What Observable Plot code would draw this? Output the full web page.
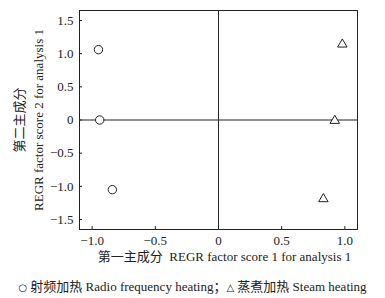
<!DOCTYPE html>
<html>
<head>
<meta charset="utf-8">
<script src="https://cdn.jsdelivr.net/npm/d3@7"></script>
<script src="https://cdn.jsdelivr.net/npm/@observablehq/plot@0.6"></script>
<style>
  html, body { margin: 0; padding: 0; background: #fff; }
  body { width: 385px; height: 298px; overflow: hidden; font-family: "Liberation Serif", "Noto Sans CJK SC", serif; }
  #legend { font-size: 13px; color: #222; text-align: center; line-height: 16px; margin-top: 7px; white-space: nowrap; }
  #legend .sym { font-family: "DejaVu Sans", sans-serif; font-size: 10px; }
</style>
</head>
<body>
<div id="chart"></div>
<div id="legend"><span class="sym">○</span> 射频加热 Radio frequency heating；<span class="sym">△</span> 蒸煮加热 Steam heating</div>
<script>
const groups = ["射频加热 Radio frequency heating", "射频加热 Radio frequency heating", "射频加热 Radio frequency heating",
                "蒸煮加热 Steam heating", "蒸煮加热 Steam heating", "蒸煮加热 Steam heating"];
const score1 = [-0.95, -0.94, -0.84, 0.98, 0.92, 0.83];
const score2 = [1.06, 0.0, -1.05, 1.14, -0.01, -1.19];
const xTicks = [-1.0, -0.5, 0, 0.5, 1.0];
const yTicks = [-1.5, -1.0, -0.5, 0, 0.5, 1.0, 1.5];
const xLabel = "第一主成分  REGR factor score 1 for analysis 1";
const yLabel1 = "第二主成分";
const yLabel2 = "REGR factor score 2 for analysis 1";

const data = score1.map((x, i) => ({x, y: score2[i], g: groups[i]}));
const fmt = d => d === 0 ? "0" : d.toFixed(1).replace("-", "−");

const chart = Plot.plot({
  width: 385,
  height: 272,
  marginLeft: 79,
  marginRight: 28,
  marginTop: 10,
  marginBottom: 43,
  style: {fontFamily: '"Liberation Serif", "Noto Sans CJK SC", serif', fontSize: "13px", color: "#222", background: "#fff"},
  x: {domain: [-1.1, 1.1]},
  y: {domain: [-1.65, 1.65]},
  r: {type: "identity"},
  symbol: {domain: [groups[0], groups[3]], range: ["circle", "triangle"]},
  marks: [
    Plot.frame({stroke: "#222", strokeWidth: 1}),
    Plot.ruleX([0], {stroke: "#222", strokeWidth: 1}),
    Plot.ruleY([0], {stroke: "#222", strokeWidth: 1}),
    Plot.axisX({ticks: xTicks, tickFormat: fmt, tickSize: -3, tickPadding: 9, label: null, stroke: "#222", fill: "#222", fontSize: 13}),
    Plot.axisY({ticks: yTicks, tickFormat: fmt, tickSize: -3, tickPadding: 9, label: null, stroke: "#222", fill: "#222", fontSize: 13}),
    Plot.dot(data, {x: "x", y: "y", symbol: "g", r: d => d.g === groups[0] ? 4.2 : 3.5, stroke: "#222", fill: "white", strokeWidth: 1}),
    Plot.text([xLabel], {frameAnchor: "bottom", dy: 31, fontSize: 13, fill: "#222", dx: 6}),
    Plot.text([yLabel1], {frameAnchor: "left", textAnchor: "middle", dx: -60, rotate: -90, fontSize: 13, fill: "#222"}),
    Plot.text([yLabel2], {frameAnchor: "left", textAnchor: "middle", dx: -41, rotate: -90, fontSize: 13, fill: "#222"})
  ]
});
document.getElementById("chart").appendChild(chart);
</script>
</body>
</html>
